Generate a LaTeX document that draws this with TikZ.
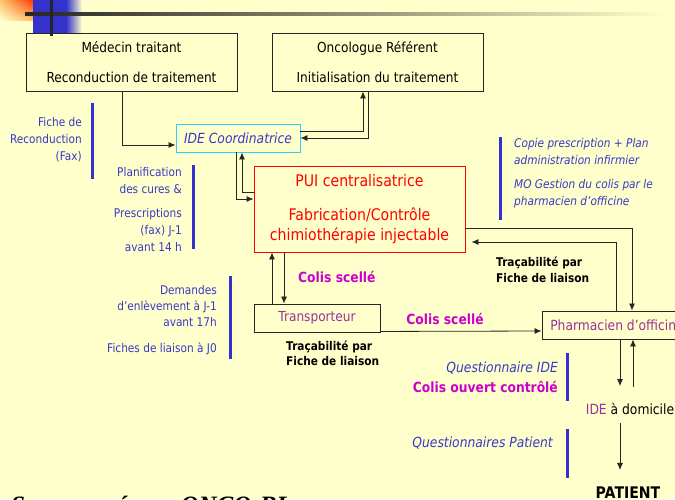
\documentclass[tikz,border=0pt]{standalone}
\usepackage{fontspec}
\setmainfont{DejaVu Sans}[FakeStretch=0.88]
\newfontfamily\srcfont{Liberation Serif}
\usepackage{xcolor}
\usepackage{tikz}
\usetikzlibrary{arrows.meta, shadings}

\definecolor{bgyellow}{HTML}{FFFFCC}
\definecolor{barblue}{HTML}{3333CC}
\definecolor{txtblue}{HTML}{3838C8}
\definecolor{purpletxt}{HTML}{993399}
\definecolor{magtxt}{HTML}{CC00CC}
\definecolor{idecyan}{HTML}{33CCFF}
\definecolor{puired}{HTML}{FF0000}

\newcommand{\boxfont}{\fontsize{13.8}{30}\selectfont}

\tikzset{
    actor/.style={draw=black!85, line width=0.9pt, inner sep=0pt},
    arr/.style={-{Latex[length=7pt,width=6pt]}, line width=0.8pt, black!85},
    infobar/.style={barblue, line width=3pt},
    note/.style={text=txtblue, inner sep=0pt, font=\fontsize{12}{17}\selectfont},
    colislbl/.style={text=magtxt, inner sep=0pt, font=\bfseries\fontsize{14}{17}\selectfont},
    traclbl/.style={inner sep=0pt, align=left, font=\bfseries\fontsize{12}{15.5}\selectfont},
}

\begin{document}
\begin{tikzpicture}[x=1pt, y=-1pt]
    \useasboundingbox (0,0) rectangle (675,499);
    \clip (0,0) rectangle (675,499);
    \fill[bgyellow] (0,0) rectangle (675,499);

    % slide decoration
    \shade[upper left=orange!45!bgyellow, upper right=red!55!orange, lower left=bgyellow, lower right=orange!50!bgyellow] (0,0) rectangle (33,20);
    \fill[barblue] (33,0) rectangle (66,33);
    \shade[left color=barblue, right color=bgyellow] (66,0) rectangle (82,33);
    \shade[left color=black!85, right color=bgyellow, middle color=black!45!bgyellow] (25,12.6) rectangle (665,15.9);
    \fill[black!85] (50,0) rectangle (53.3,36);

    % actors
    \node[actor, minimum width=211pt, minimum height=58pt, align=center, font=\boxfont] (med) at (131.5,62) {Médecin traitant\\Reconduction de traitement};
    \node[actor, minimum width=211pt, minimum height=58pt, align=center, font=\boxfont] (onc) at (377.5,62) {Oncologue Référent\\Initialisation du traitement};
    \node[actor, draw=idecyan, text=txtblue, minimum width=124pt, minimum height=28pt, font=\itshape\fontsize{14}{17}\selectfont] (ide) at (238,138) {IDE Coordinatrice};
    \node[actor, draw=puired, text=puired, minimum width=211pt, minimum height=86pt, align=center, font=\fontsize{16}{20}\selectfont] (pui) at (359.5,209) {PUI centralisatrice\\[14pt]Fabrication/Contrôle\\chimiothérapie injectable};
    \node[actor, text=purpletxt, minimum width=126pt, minimum height=28pt, font=\boxfont] (tra) at (317,318) {Transporteur};
    \node[actor, text=purpletxt, minimum width=150pt, minimum height=28pt, font=\fontsize{14}{17}\selectfont] (pha) at (617,325) {Pharmacien d’officine};
    \node[inner sep=1pt, font=\fontsize{14}{17}\selectfont] (idedom) at (630,409) {\textcolor{purpletxt}{IDE} à domicile};
    \node[inner sep=1pt, font=\bfseries\fontsize{16}{20}\selectfont] (pat) at (628,493) {PATIENT};

    % flows
    \draw[arr] ([xshift=-9.5pt]med.south) |- ([yshift=-7pt]ide.west);
    \draw[arr] ([yshift=7pt]ide.east) -| ([xshift=-14.5pt]onc.south);
    \draw[arr] ([xshift=-9.5pt]onc.south) |- (ide.east);
    \draw[arr] ([xshift=-2pt]ide.south) |- ([yshift=10pt]pui.west);
    \draw[arr] ([yshift=17pt]pui.west) -| ([xshift=4pt]ide.south);
    \draw[arr] ([yshift=-19pt]pui.east) -| ([xshift=15pt]pha.north);
    \draw[arr, shorten >=6pt] ([xshift=-1pt]pha.north) |- ([yshift=-33pt]pui.east);
    \draw[arr] ([xshift=-45pt]tra.north) -- ([xshift=-87.5pt]pui.south);
    \draw[arr] ([xshift=-75.5pt]pui.south) -- ([xshift=-33pt]tra.north);
    \draw[arr] ([yshift=1pt]tra.south east) -- ([yshift=-6pt]pha.west);
    \draw[arr, shorten >=16pt] ([xshift=3pt]pha.south) -- ([xshift=-10pt]idedom.north);
    \draw[arr, shorten <=15.5pt] ([xshift=3pt]idedom.north) -- ([xshift=16pt]pha.south);
    \draw[arr, shorten <=7.5pt, shorten >=16pt] ([xshift=-10pt]idedom.south) -- ([xshift=-8pt]pat.north);

    % flow labels
    \node[colislbl, anchor=west] (cs1) at (298,277) {Colis scellé};
    \node[colislbl] (cs2) at (445,319) {Colis scellé};
    \node[traclbl, anchor=west] (tr1) at (286,353.5) {Traçabilité par\\Fiche de liaison};
    \node[traclbl, anchor=west] (tr2) at (496,270) {Traçabilité par\\Fiche de liaison};

    % side notes
    \foreach \x/\ya/\yb in {92/103/179, 193/165/249, 230/276/359, 500/137/220, 567/353/401, 567/429/478}
    \draw[infobar] (\x,\ya) -- (\x,\yb);

    \node[note, anchor=east, align=right] (n1) at (82,140) {Fiche de\\Reconduction\\(Fax)};
    \node[note, anchor=east, align=right] (n2) at (182,209.5) {Planification\\des cures \&\\[7pt]Prescriptions\\(fax) J-1\\avant 14 h};
    \node[note, anchor=east, align=right, font=\fontsize{12}{16}\selectfont] (n3) at (217,320) {Demandes\\d’enlèvement à J-1\\avant 17h\\[10pt]Fiches de liaison à J0};
    \node[note, anchor=west, align=left, font=\itshape\fontsize{12}{17}\selectfont] (n4) at (514,173) {Copie prescription + Plan\\administration infirmier\\[7pt]MO Gestion du colis par le\\pharmacien d’officine};
    \node[note, anchor=east, align=right, font=\fontsize{14}{20}\selectfont] (n5) at (558,377) {\textit{Questionnaire IDE}\\\textcolor{magtxt}{\bfseries Colis ouvert contrôlé}};
    \node[note, anchor=east, font=\itshape\fontsize{14}{17}\selectfont] (n6) at (553,443) {Questionnaires Patient};

    \node[anchor=base west, inner sep=0pt, font=\srcfont\bfseries\itshape\fontsize{25}{25}\selectfont] (src) at (11,513) {Source : réseau ONCO-BL};
\end{tikzpicture}
\end{document}
